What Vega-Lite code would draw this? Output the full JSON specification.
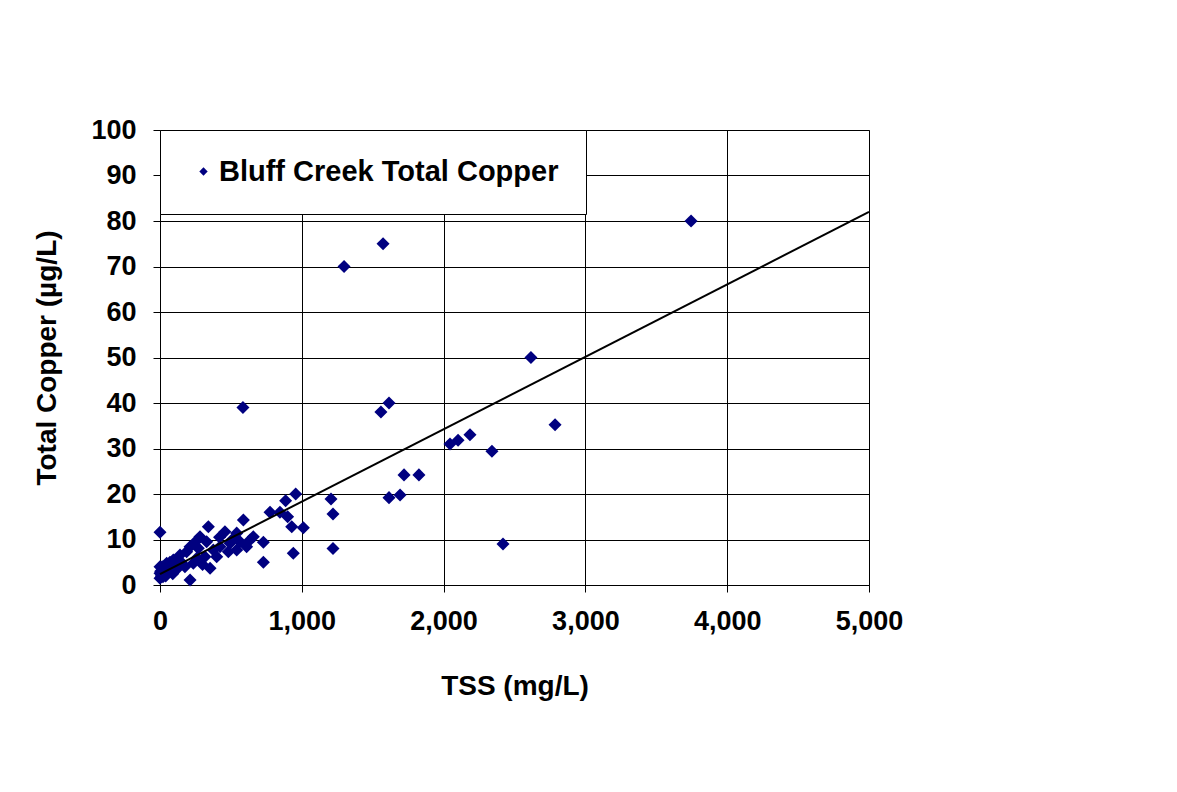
{
  "$schema": "https://vega.github.io/schema/vega-lite/v6.json",
  "width": 709,
  "height": 455,
  "autosize": {"type": "none"},
  "padding": {"left": 160, "top": 130, "right": 308, "bottom": 207},
  "background": "white",
  "config": {
    "font": "Liberation Sans",
    "view": {"stroke": "#808080", "strokeWidth": 1},
    "axis": {
      "labelFont": "Liberation Sans", "labelFontWeight": "bold", "labelFontSize": 27, "labelColor": "black",
      "titleFont": "Liberation Sans", "titleFontWeight": "bold", "titleFontSize": 28, "titleColor": "black",
      "gridColor": "black", "gridWidth": 1, "gridOpacity": 1,
      "domainColor": "black", "tickColor": "black", "tickSize": 7, "labelFlush": false
    }
  },
  "datasets": {
    "pts": [
      {"tss": 0, "cu": 11.6}, {"tss": 585, "cu": 39}, {"tss": 1298, "cu": 70}, {"tss": 1573, "cu": 75},
      {"tss": 3745, "cu": 80}, {"tss": 2616, "cu": 50}, {"tss": 2786, "cu": 35.2}, {"tss": 1615, "cu": 40},
      {"tss": 1558, "cu": 38}, {"tss": 2186, "cu": 33}, {"tss": 2102, "cu": 31.8}, {"tss": 2045, "cu": 31},
      {"tss": 2341, "cu": 29.4}, {"tss": 1721, "cu": 24.2}, {"tss": 1826, "cu": 24.2}, {"tss": 1693, "cu": 19.8},
      {"tss": 1615, "cu": 19.2}, {"tss": 1206, "cu": 18.9}, {"tss": 1220, "cu": 15.6}, {"tss": 1220, "cu": 8},
      {"tss": 2419, "cu": 9}, {"tss": 1011, "cu": 12.6}, {"tss": 957, "cu": 20}, {"tss": 886, "cu": 18.5},
      {"tss": 929, "cu": 12.8}, {"tss": 940, "cu": 7}, {"tss": 729, "cu": 9.4}, {"tss": 729, "cu": 5},
      {"tss": 776, "cu": 16}, {"tss": 846, "cu": 16}, {"tss": 900, "cu": 15}, {"tss": 588, "cu": 14.3},
      {"tss": 341, "cu": 12.8}, {"tss": 458, "cu": 11.7}, {"tss": 541, "cu": 11.4}, {"tss": 282, "cu": 10.6},
      {"tss": 658, "cu": 10.6}, {"tss": 635, "cu": 9.9}, {"tss": 564, "cu": 9.5}, {"tss": 611, "cu": 8.4},
      {"tss": 494, "cu": 9.2}, {"tss": 423, "cu": 8.4}, {"tss": 376, "cu": 7.7}, {"tss": 212, "cu": 8.4},
      {"tss": 141, "cu": 6.6}, {"tss": 353, "cu": 3.7}, {"tss": 212, "cu": 1.1}, {"tss": 235, "cu": 4.8},
      {"tss": 317, "cu": 6.2}, {"tss": 94, "cu": 5.5}, {"tss": 47, "cu": 4.8}, {"tss": 0, "cu": 4},
      {"tss": 0, "cu": 2.6}, {"tss": 21, "cu": 1.8}, {"tss": 176, "cu": 4}, {"tss": 259, "cu": 5.9},
      {"tss": 400, "cu": 6.2}, {"tss": 482, "cu": 7.3}, {"tss": 541, "cu": 7.7}, {"tss": 270, "cu": 8.1},
      {"tss": 329, "cu": 9.5}, {"tss": 188, "cu": 7.3}, {"tss": 118, "cu": 5.5}, {"tss": 10, "cu": 2},
      {"tss": 20, "cu": 3}, {"tss": 30, "cu": 2.5}, {"tss": 50, "cu": 3.5}, {"tss": 60, "cu": 4},
      {"tss": 80, "cu": 3}, {"tss": 100, "cu": 4.5}, {"tss": 120, "cu": 3.5}, {"tss": 0, "cu": 1.5},
      {"tss": 5, "cu": 3}, {"tss": 15, "cu": 4}, {"tss": 40, "cu": 2}, {"tss": 70, "cu": 5},
      {"tss": 150, "cu": 5}, {"tss": 90, "cu": 2.5}, {"tss": 300, "cu": 4.5}, {"tss": 420, "cu": 10.5},
      {"tss": 510, "cu": 10}, {"tss": 250, "cu": 9.5}
    ],
    "fit": [{"tss": 0, "cu": 2.4}, {"tss": 5000, "cu": 82}]
  },
  "layer": [
    {
      "data": {"name": "pts"},
      "transform": [{"calculate": "'Bluff Creek Total Copper'", "as": "series"}],
      "mark": {"type": "point", "shape": "diamond", "filled": true, "size": 170, "opacity": 1},
      "encoding": {
        "x": {"field": "tss", "type": "quantitative", "title": "TSS (mg/L)",
          "scale": {"domain": [0, 5000], "nice": false},
          "axis": {"values": [0, 1000, 2000, 3000, 4000, 5000], "format": ",.0f", "labelPadding": 16, "titlePadding": 38}},
        "y": {"field": "cu", "type": "quantitative", "title": "Total Copper (µg/L)",
          "scale": {"domain": [0, 100], "nice": false},
          "axis": {"values": [0, 10, 20, 30, 40, 50, 60, 70, 80, 90, 100], "labelPadding": 17, "titlePadding": 29}},
        "color": {"field": "series", "type": "nominal", "scale": {"range": ["#000080"]},
          "legend": {"title": null, "orient": "top-left", "offset": 0, "fillColor": "white", "strokeColor": "black",
            "padding": 27, "symbolOffset": 2, "labelOffset": 1, "symbolSize": 70, "symbolType": "diamond",
            "labelFont": "Liberation Sans", "labelFontSize": 29, "labelFontWeight": "bold", "labelColor": "black", "labelLimit": 600}}
      }
    },
    {
      "data": {"name": "fit"},
      "mark": {"type": "line", "color": "black", "strokeWidth": 2},
      "encoding": {
        "x": {"field": "tss", "type": "quantitative"},
        "y": {"field": "cu", "type": "quantitative"}
      }
    }
  ]
}
